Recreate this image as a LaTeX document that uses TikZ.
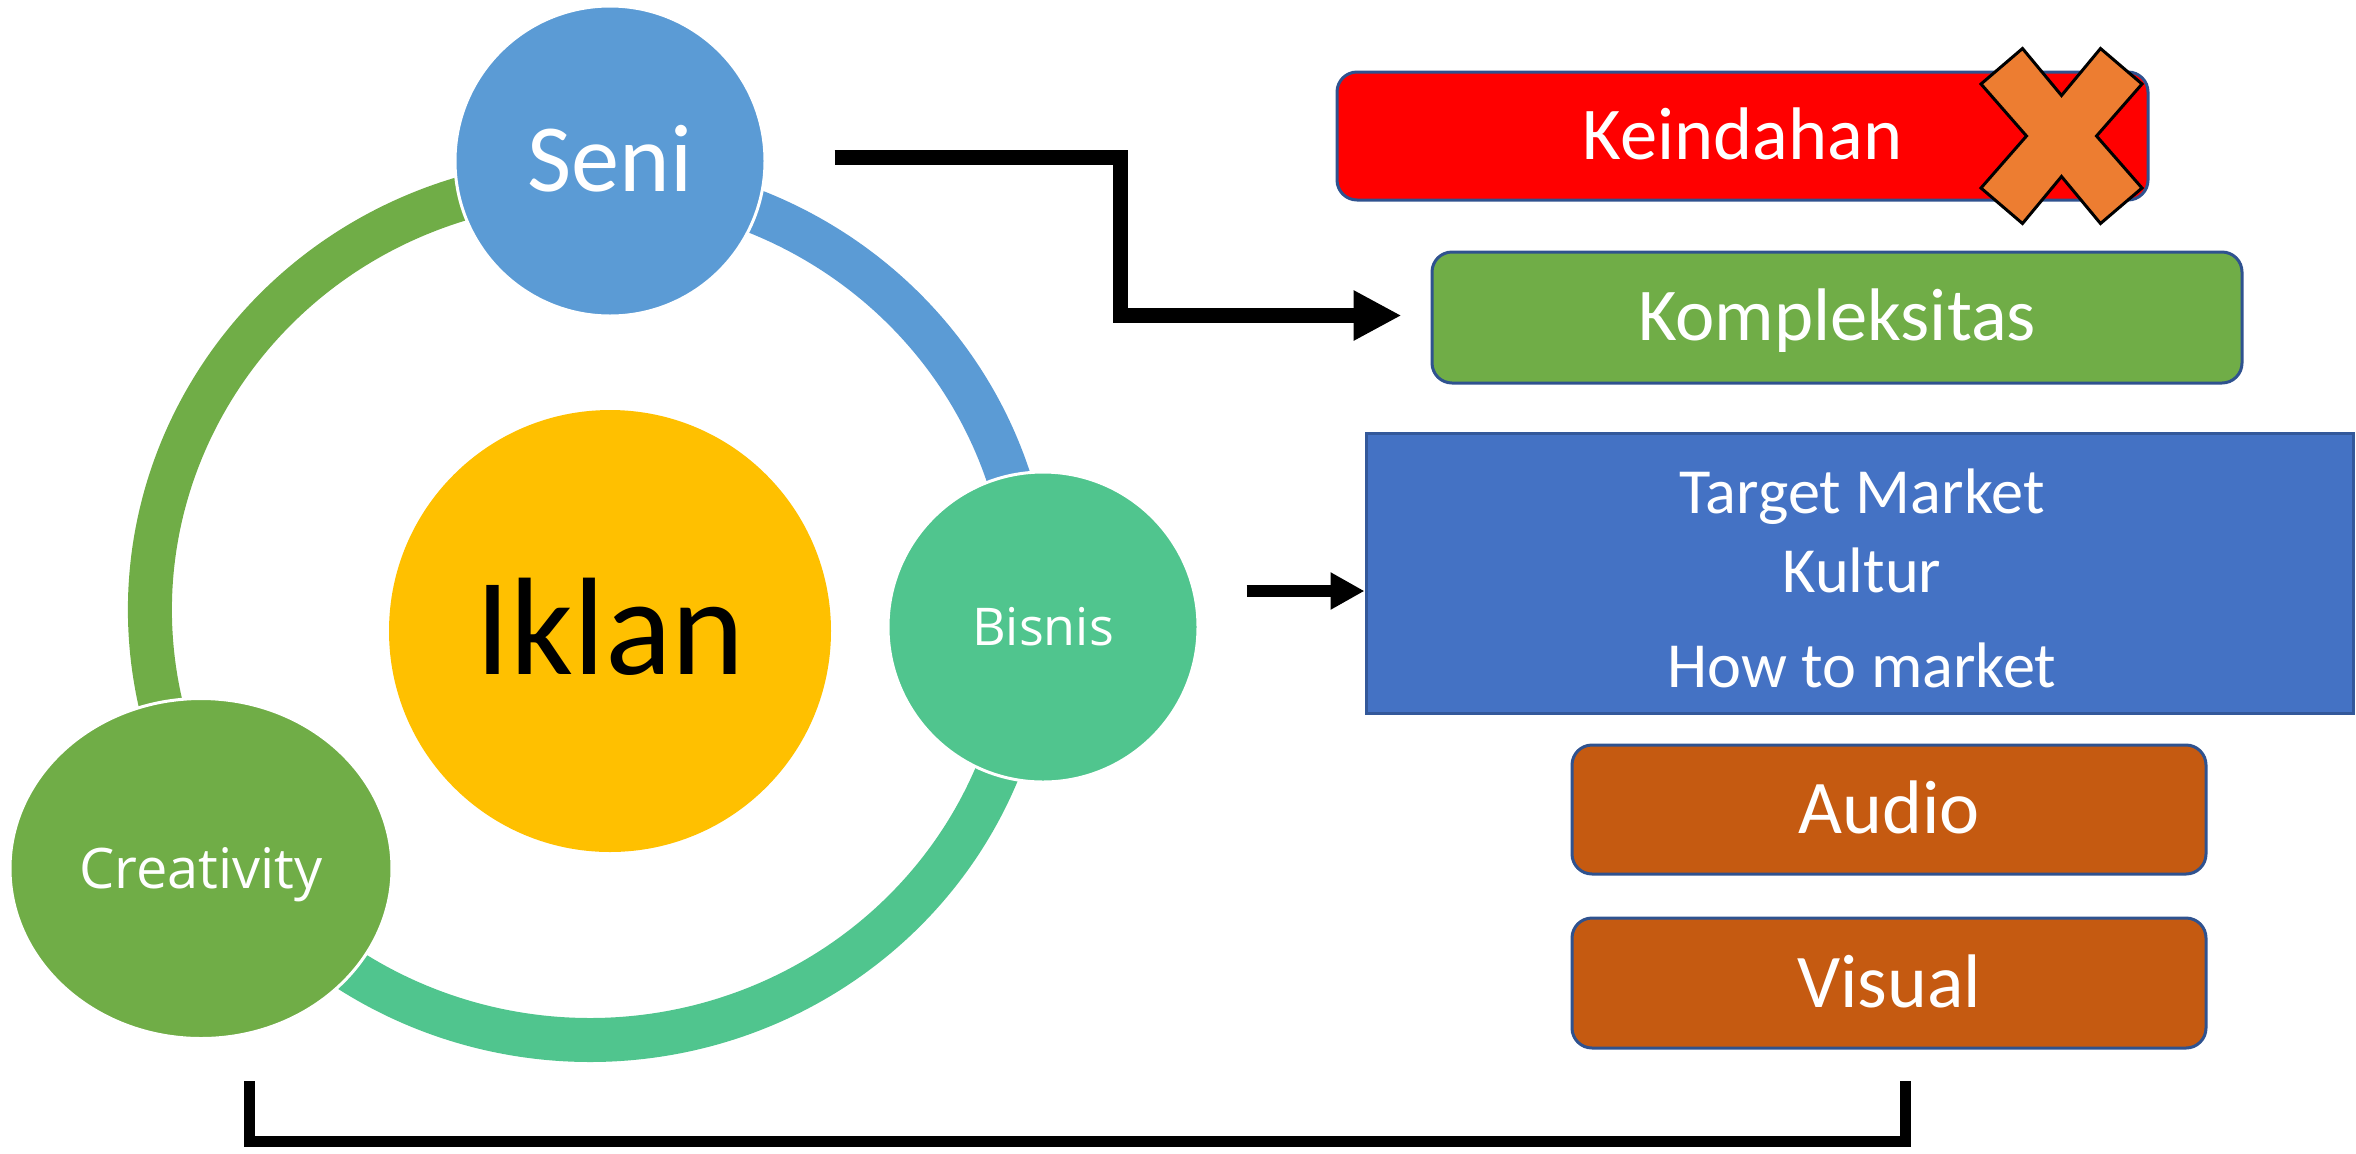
\documentclass[tikz,border=0pt]{standalone}
\usepackage{fontspec}
\setmainfont{Carlito}
\newfontfamily\osans{Open Sans}
\usetikzlibrary{arrows.meta,shapes.geometric,calc}
\definecolor{seniblue}{HTML}{5B9BD5}
\definecolor{iklanyel}{HTML}{FFC000}
\definecolor{tealc}{HTML}{50C58E}
\definecolor{greenc}{HTML}{70AD47}
\definecolor{boxblue}{HTML}{4472C4}
\definecolor{brownc}{HTML}{C55A11}
\definecolor{xorange}{HTML}{ED7D31}
\definecolor{bordblue}{HTML}{2F528F}
\begin{document}
\begin{tikzpicture}[x=0.1mm,y=-0.1mm,
  ring/.style={line width=4.4mm, line cap=butt},
  bubble/.style={draw=white, line width=0.3mm, inner sep=0pt, text=white, text depth=0pt},
  rbox/.style={rectangle, rounded corners=2mm, draw=bordblue, line width=0.3mm, text=white, inner sep=0pt, text depth=0pt},
  boxfont/.style={font=\fontsize{21.2pt}{25pt}\selectfont, text height=13.4pt},
  mfont/.style={font=\fontsize{18.3pt}{22pt}\selectfont, text=white, anchor=base, inner sep=0pt},
  arrowbig/.style={line width=1.5mm, line join=miter, -{Triangle[length=4.8mm,width=4.7mm]}},
  arrowmed/.style={line width=1.17mm, -{Triangle[length=3.4mm,width=3.5mm]}},
  brack/.style={line width=1.1mm, line join=miter}
]
\useasboundingbox (0,0) rectangle (2356,1153);

% ring arcs
\draw[ring, draw=greenc] (590,610) ++(166:440 and 430) arc[start angle=166, end angle=254, x radius=440, y radius=430];
\draw[ring, draw=seniblue] (590,610) ++(289.7:440 and 430) arc[start angle=289.7, end angle=343.5, x radius=440, y radius=430];
\draw[ring, draw=tealc] (590,610) ++(22:440 and 430) arc[start angle=22, end angle=125, x radius=440, y radius=430];

% circles
\node[bubble, circle, fill=seniblue, minimum size=31mm,
  font=\fontsize{27.4pt}{30pt}\selectfont, text height=17.4pt] (seni) at (610,161) {Seni};
\node[circle, fill=iklanyel, inner sep=0pt, minimum size=44.2mm, text depth=0pt,
  font=\fontsize{39.5pt}{44pt}\selectfont, text height=25pt] (iklan) at (610,631) {Iklan};
\node[bubble, circle, fill=tealc, minimum size=31mm,
  font=\osans\fontsize{14.8pt}{18pt}\selectfont, text height=10.8pt] (bisnis) at (1043,627) {Bisnis};
\node[bubble, ellipse, fill=greenc, minimum width=38.2mm, minimum height=34mm,
  font=\osans\fontsize{15.9pt}{19pt}\selectfont, text height=11.4pt] (creat) at (201,868.5) {Creativity};

% boxes
\node[rbox, boxfont, fill=red, minimum width=81.1mm, minimum height=12.8mm] (kein) at (1742.5,136) {Keindahan};
\node[rbox, boxfont, fill=greenc, minimum width=81mm, minimum height=13.1mm, text height=13.1pt] (komp) at (1837,317.5) {Kompleksitas};
\node[rectangle, fill=boxblue, draw=bordblue!80!boxblue, line width=0.3mm, inner sep=0pt,
  minimum width=98.7mm, minimum height=28mm] (market) at (1859.5,573) {};
\node[mfont] (t1) at (1862,513) {Target Market};
\node[mfont] (t2) at (1862,592) {Kultur};
\node[mfont] (t3) at (1862,687) {How to market};
\node[rbox, fill=brownc, minimum width=63.4mm, minimum height=12.9mm,
  font=\fontsize{21.6pt}{25pt}\selectfont, text height=13.7pt] (audio) at (1889,809.5) {Audio};
\node[rbox, fill=brownc, minimum width=63.4mm, minimum height=13mm,
  font=\fontsize{21.6pt}{25pt}\selectfont, text height=13.7pt] (visual) at (1889,983) {Visual};

% cross mark
\begin{scope}[shift={($(kein.east)+(-88,0)$)}]
\draw[fill=xorange, line width=0.3mm, line join=miter]
  (-80.5,-52) -- (-39,-87.5) -- (0,-40.5) -- (39,-87.5) -- (80.5,-52) -- (35,0)
  -- (80.5,52) -- (39,87.5) -- (0,40.5) -- (-39,87.5) -- (-80.5,52) -- (-35,0) -- cycle;
\end{scope}

% arrows
\draw[arrowbig] ($(seni.east)+(68,-4)$) -- ++(285.5,0) |- ($(komp.west)+(-29,-2)$);
\draw[arrowmed] ($(bisnis.east)+(47,-36)$) -- ($(bisnis.east -| market.west)+(0,-36)$);

% bottom bracket
\coordinate (bl) at (249,1081);
\coordinate (br) at (1905,1081);
\draw[brack] (bl) -- ++(0,60) -| (br);
\end{tikzpicture}
\end{document}
